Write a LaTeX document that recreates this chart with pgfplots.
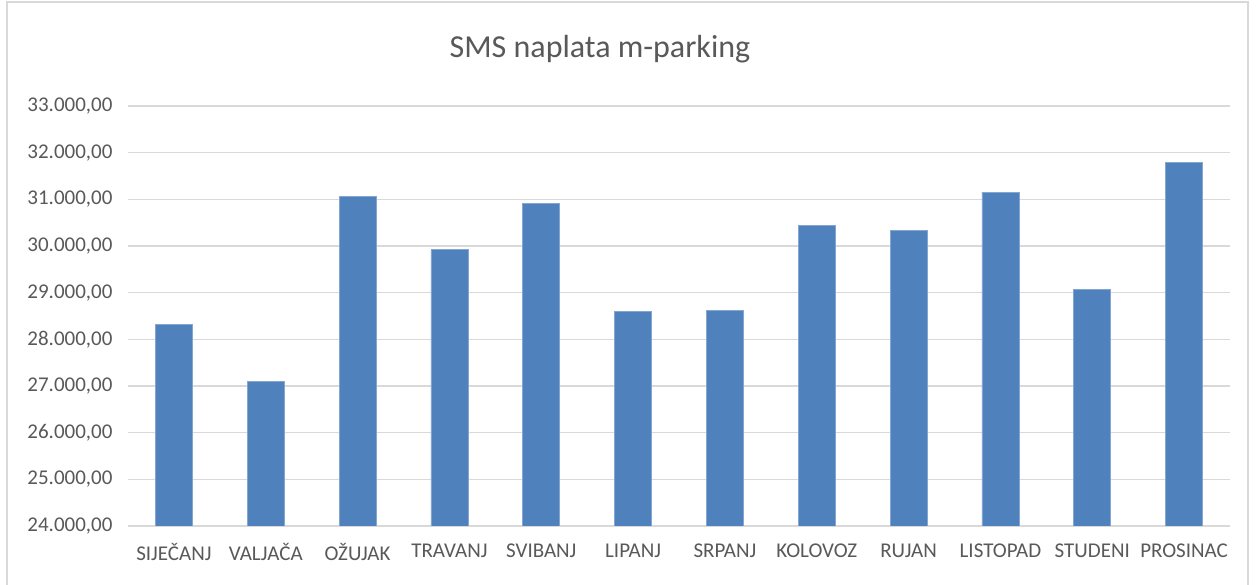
\documentclass[border=0pt]{standalone}
\usepackage{fontspec}
\setmainfont{Carlito}
\usepackage{pgfplots}
\pgfplotsset{compat=1.18}
\definecolor{barblue}{HTML}{4F81BD}
\definecolor{txtgray}{HTML}{595959}
\definecolor{gridgray}{HTML}{D9D9D9}
\begin{document}
\begin{tikzpicture}[x=1pt,y=1pt]
\useasboundingbox (0,0) rectangle (1256,585);
\fill[white] (0,0) rectangle (1256,585);
\draw[gridgray, line width=1.2pt] (7,-2) -- (7,583) -- (1248,583) -- (1248,-2);
\begin{axis}[
  at={(128pt,59pt)}, anchor=south west,
  scale only axis, width=1102pt, height=420pt,
  xmin=-0.5, xmax=11.5, ymin=24000, ymax=33000,
  ytick={24000,25000,...,33000},
  xtick={0,...,11},
  xticklabels={SIJEČANJ,VALJAČA,OŽUJAK,TRAVANJ,SVIBANJ,LIPANJ,SRPANJ,KOLOVOZ,RUJAN,LISTOPAD,STUDENI,PROSINAC},
  axis line style={draw=none},
  axis x line*=bottom,
  x axis line style={draw=gridgray, line width=1.2pt},
  axis y line*=left,
  y axis line style={draw=none},
  major tick length=0pt,
  ymajorgrids, grid style={gridgray, line width=1.2pt},
  tick label style={font=\fontsize{21}{24}\selectfont, text=txtgray},
  yticklabel style={xshift=-12pt},
  xticklabel style={yshift=-14pt},
  scaled y ticks=false,
  /pgf/number format/.cd, assume math mode=true, fixed, fixed zerofill, precision=2, use comma, 1000 sep={.},
]
\addplot[ybar, bar width=37pt, fill=barblue, draw=barblue!70!white, line width=0.6pt]
coordinates {(0,28322) (1,27107) (2,31071) (3,29921) (4,30915) (5,28600) (6,28622) (7,30443) (8,30336) (9,31157) (10,29064) (11,31793)};
\end{axis}
\node[text=txtgray, font=\fontsize{32}{36}\selectfont, anchor=base] at (600,527) {SMS naplata m-parking};
\end{tikzpicture}
\end{document}
